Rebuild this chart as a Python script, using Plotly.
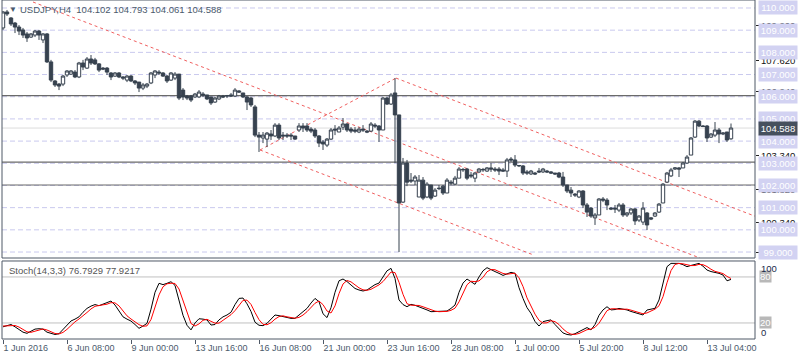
import plotly.graph_objects as go

# ---------------- data ----------------
tick_labels = ["1 Jun 2016", "6 Jun 08:00", "9 Jun 00:00", "13 Jun 16:00", "16 Jun 08:00",
               "21 Jun 00:00", "23 Jun 16:00", "28 Jun 08:00", "1 Jul 00:00", "5 Jul 20:00",
               "8 Jul 12:00", "13 Jul 04:00"]
tick_bars = [0, 16, 32, 48, 64, 80, 96, 112, 128, 144, 160, 176]

opens = [109.10, 109.82, 109.55, 109.32, 109.14, 109.01, 108.83, 108.69, 108.78, 108.96,
         108.56, 108.83, 107.57, 106.71, 106.57, 106.57, 106.98, 107.02, 107.11, 106.89,
         107.52, 107.29, 107.70, 107.66, 107.48, 107.29, 107.29, 107.07, 106.93, 107.07,
         106.89, 106.75, 106.93, 106.71, 106.66, 106.39, 106.48, 106.62, 106.98, 107.11,
         107.07, 106.93, 106.75, 106.84, 107.02, 106.30, 106.03, 106.03, 105.99, 105.99,
         106.12, 106.08, 105.99, 105.76, 105.90, 106.03, 106.03, 106.08, 106.03, 106.26,
         106.17, 105.99, 105.94, 105.54, 104.27, 104.14, 104.09, 104.32, 104.23, 104.72,
         104.27, 104.27, 104.27, 104.23, 104.50, 104.68, 104.68, 104.54, 104.50, 104.23,
         103.96, 103.82, 104.09, 104.54, 104.41, 104.63, 104.77, 104.54, 104.50, 104.41,
         104.54, 104.45, 104.45, 104.72, 104.68, 104.50, 105.94, 105.67, 106.17, 105.18,
         101.25, 103.01, 102.24, 102.20, 101.48, 102.24, 101.48, 102.02, 101.52, 101.88,
         101.97, 101.66, 102.15, 102.06, 102.33, 102.70, 102.74, 102.47, 102.33, 102.61,
         102.70, 102.65, 102.79, 102.74, 102.74, 102.70, 102.65, 103.19, 103.15, 102.88,
         102.88, 102.61, 102.52, 102.56, 102.65, 102.61, 102.65, 102.61, 102.56, 102.56,
         102.38, 102.02, 101.79, 101.61, 101.48, 101.75, 101.12, 100.98, 100.54, 100.67,
         101.39, 101.34, 100.98, 100.98, 100.89, 101.12, 100.67, 100.76, 100.94, 100.44,
         100.35, 100.76, 100.54, 100.62, 100.80, 101.21, 102.15, 102.43, 102.74, 102.79,
         102.79, 103.01, 103.37, 104.18, 104.90, 104.68, 104.68, 104.18, 104.27, 104.50,
         104.32, 104.41, 104.102]
highs = [109.86, 109.91, 109.59, 109.37, 109.23, 109.10, 108.92, 108.87, 109.01, 109.01,
         108.87, 108.87, 107.66, 106.75, 106.62, 106.98, 107.20, 107.20, 107.20, 107.57,
         107.66, 107.79, 107.88, 107.75, 107.52, 107.34, 107.34, 107.11, 107.11, 107.11,
         106.93, 106.98, 106.98, 106.75, 106.66, 106.62, 106.62, 107.11, 107.20, 107.20,
         107.11, 106.98, 107.11, 107.11, 107.02, 106.39, 106.08, 106.08, 106.17, 106.30,
         106.21, 106.08, 105.99, 105.99, 106.08, 106.08, 106.08, 106.17, 106.39, 106.30,
         106.17, 106.03, 105.99, 105.63, 104.41, 104.41, 104.41, 104.50, 104.81, 104.81,
         104.41, 104.36, 104.36, 104.23, 104.81, 104.81, 104.81, 104.63, 104.59, 104.27,
         104.05, 104.14, 104.59, 104.72, 104.68, 105.04, 104.81, 104.63, 104.63, 104.63,
         104.72, 104.50, 104.86, 104.81, 104.72, 105.99, 105.99, 106.17, 106.84, 105.18,
         103.24, 103.15, 102.56, 102.47, 102.47, 102.38, 102.15, 102.02, 101.88, 102.02,
         102.02, 102.33, 102.24, 102.43, 102.83, 102.79, 102.79, 102.61, 102.61, 102.79,
         102.79, 102.83, 103.01, 102.83, 102.83, 102.79, 103.24, 103.28, 103.37, 102.92,
         102.92, 102.70, 102.70, 102.61, 102.79, 102.79, 102.70, 102.65, 102.56, 102.61,
         102.61, 102.02, 101.93, 101.66, 101.79, 101.79, 101.21, 101.03, 100.76, 101.43,
         101.48, 101.43, 101.03, 101.12, 101.21, 101.21, 100.80, 100.98, 100.98, 100.67,
         101.25, 100.80, 100.58, 100.80, 101.21, 102.11, 102.61, 102.79, 102.83, 102.83,
         103.06, 103.37, 104.18, 104.95, 104.95, 104.72, 104.72, 104.36, 104.86, 104.59,
         104.41, 104.41, 104.793]
lows = [109.01, 109.64, 109.19, 108.87, 108.78, 108.65, 108.47, 108.65, 108.69, 108.56,
        108.42, 107.52, 106.66, 106.44, 106.30, 106.48, 106.89, 106.98, 106.84, 106.84,
        107.20, 107.25, 107.43, 107.43, 107.11, 107.20, 106.98, 106.75, 106.89, 106.84,
        106.75, 106.66, 106.66, 106.53, 106.21, 106.30, 106.39, 106.57, 106.84, 106.98,
        106.89, 106.62, 106.71, 106.75, 105.85, 105.85, 105.85, 105.76, 105.94, 105.94,
        105.99, 105.85, 105.63, 105.72, 105.85, 105.94, 105.94, 105.99, 105.99, 106.17,
        105.94, 105.40, 105.54, 104.18, 103.51, 103.91, 103.73, 104.05, 104.18, 104.05,
        104.05, 104.14, 104.05, 104.05, 104.41, 104.41, 104.41, 104.36, 104.14, 103.73,
        103.60, 103.73, 104.05, 104.27, 104.41, 104.50, 104.41, 104.36, 104.36, 104.36,
        104.41, 104.36, 104.41, 104.59, 103.96, 104.50, 105.63, 105.63, 103.01, 99.00,
        101.21, 101.97, 102.11, 102.02, 101.48, 101.34, 101.43, 101.34, 101.48, 101.79,
        101.57, 101.66, 102.02, 102.02, 102.33, 102.61, 102.24, 102.33, 102.15, 102.56,
        102.61, 102.61, 102.61, 102.61, 102.47, 102.61, 102.38, 103.06, 102.83, 102.83,
        102.47, 102.47, 102.47, 102.47, 102.56, 102.56, 102.56, 102.52, 102.47, 102.33,
        101.93, 101.66, 101.48, 101.48, 101.43, 100.98, 100.58, 100.54, 100.22, 100.67,
        101.25, 100.89, 100.89, 100.76, 100.80, 100.58, 100.58, 100.67, 100.22, 100.35,
        100.22, 99.99, 100.44, 100.58, 100.76, 101.21, 102.11, 102.38, 102.70, 102.38,
        102.79, 102.97, 103.37, 104.14, 104.63, 104.63, 103.96, 104.14, 104.18, 103.91,
        104.27, 103.96, 104.061]
closes = [109.82, 109.73, 109.28, 109.14, 108.96, 108.78, 108.65, 108.83, 108.96, 108.78,
          108.83, 107.57, 106.75, 106.53, 106.48, 106.93, 107.16, 107.16, 106.89, 107.52,
          107.34, 107.70, 107.52, 107.48, 107.20, 107.25, 107.11, 106.89, 107.07, 106.89,
          106.84, 106.93, 106.71, 106.62, 106.39, 106.53, 106.57, 107.07, 107.16, 107.07,
          106.93, 106.71, 107.07, 107.02, 105.94, 105.99, 105.94, 105.85, 106.12, 106.21,
          106.08, 105.90, 105.72, 105.94, 106.03, 105.99, 106.05, 106.03, 106.30, 106.21,
          105.99, 105.76, 105.63, 104.27, 104.18, 104.27, 104.36, 104.23, 104.72, 104.14,
          104.23, 104.23, 104.23, 104.09, 104.68, 104.59, 104.50, 104.45, 104.23, 103.91,
          103.87, 104.09, 104.50, 104.50, 104.59, 104.77, 104.50, 104.45, 104.45, 104.54,
          104.50, 104.41, 104.77, 104.68, 104.50, 105.94, 105.67, 106.08, 105.18, 101.21,
          103.01, 102.15, 102.20, 102.38, 102.24, 101.43, 102.06, 101.43, 101.79, 101.86,
          101.66, 102.24, 102.11, 102.33, 102.74, 102.72, 102.33, 102.43, 102.56, 102.74,
          102.72, 102.79, 102.74, 102.70, 102.65, 102.65, 103.15, 103.15, 102.92, 102.90,
          102.56, 102.56, 102.65, 102.52, 102.61, 102.74, 102.61, 102.56, 102.52, 102.38,
          102.02, 101.75, 101.66, 101.57, 101.75, 101.12, 100.80, 100.62, 100.67, 101.39,
          101.34, 101.12, 100.94, 100.94, 101.12, 100.67, 100.76, 100.94, 100.40, 100.62,
          100.98, 100.22, 100.49, 100.76, 101.16, 102.06, 102.56, 102.70, 102.79, 102.74,
          103.01, 103.28, 104.14, 104.90, 104.68, 104.66, 104.14, 104.32, 104.50, 104.32,
          104.36, 104.05, 104.588]

stoch_k = [15, 17, 18, 15, 11, 8, 6.5, 9, 12, 12.5, 12, 8, 6, 5, 6, 12, 17, 22.6, 25, 28,
           34, 39, 42, 44, 42.5, 44.5, 46.5, 48.6, 43.4, 35, 28, 25, 22.5, 18, 13, 16, 19.5, 38, 60, 71.7,
           70, 71.7, 73.8, 69, 50, 30, 17, 11, 20, 25.5, 25, 24, 17.3, 18, 24, 28, 30.4, 34, 44, 52,
           52.5, 45, 35, 21, 17, 16.5, 19.5, 25, 30.4, 29.5, 28, 26.5, 26, 26, 30, 35, 39, 46, 52, 47.8,
           32, 27, 40, 60, 75, 77.3, 74, 69.5, 65, 63, 61.7, 63, 67, 70, 72, 80, 88, 91.2, 78, 50,
           44, 41.2, 44.3, 43, 41.2, 39, 37, 34.7, 34.7, 34.7, 35, 35.6, 39, 43.4, 60, 72, 77.3, 74, 70.4, 80,
           88, 92.1, 89, 87, 84.7, 82, 84, 86, 84.7, 66, 52, 40, 32.5, 22, 16, 21.7, 23, 24, 18, 12,
           7, 5, 4.3, 6, 8.6, 11, 14, 11, 18, 30, 37, 41.2, 37, 37.5, 39, 38, 37, 35, 33.5, 32,
           30.4, 36.9, 38, 39.1, 50, 73.8, 93.4, 97.7, 97.7, 97.7, 96, 93.4, 95, 96.4, 97.7, 94, 89, 87, 86, 84.7,
           82.5, 75, 76.79]
stoch_d = [16, 16.5, 16.7, 16.7, 14.7, 11.3, 8.5, 7.8, 9.2, 11.2, 12.2, 10.8, 8.7, 6.3, 5.7, 7.7, 11.7, 17.2, 21.5, 25.2,
           29, 33.7, 38.3, 41.7, 42.8, 43.7, 44.5, 46.5, 46.2, 42.3, 35.5, 29.3, 25.2, 21.8, 17.8, 15.7, 16.2, 24.5, 39.2, 56.6,
           67.2, 71.1, 71.8, 71.5, 64.3, 49.7, 32.3, 19.3, 16, 18.8, 23.5, 24.8, 22.1, 19.8, 19.8, 23.3, 27.5, 30.8, 36.1, 43.3,
           49.5, 49.8, 44.2, 33.7, 24.3, 18.2, 17.7, 20.3, 25, 28.3, 29.3, 28, 26.8, 26.2, 27.3, 30.3, 34.7, 40, 45.7, 48.6,
           43.9, 35.6, 33, 42.3, 58.3, 70.8, 75.4, 73.6, 69.5, 65.8, 63.2, 62.6, 63.9, 66.7, 69.7, 74, 80, 86.4, 85.7, 73.1,
           57.3, 45.1, 43.2, 42.8, 42.8, 41.1, 39.1, 36.9, 35.5, 34.7, 34.8, 35.1, 36.5, 39.3, 47.5, 58.5, 69.8, 74.4, 73.9, 74.8,
           79.5, 86.7, 89.7, 89.4, 86.9, 84.6, 83.6, 84, 84.9, 78.9, 67.6, 52.7, 41.5, 31.5, 23.5, 19.9, 20.2, 22.9, 21.7, 18,
           12.3, 8, 5.4, 5.1, 6.3, 8.5, 11.2, 12, 14.3, 19.7, 28.3, 36.1, 38.4, 38.6, 37.8, 38.2, 38, 36.7, 35.2, 33.5,
           32, 33.1, 35.1, 38, 42.4, 54.3, 72.4, 88.3, 96.3, 97.7, 97.1, 95.7, 94.8, 94.9, 96.4, 96, 93.6, 90, 87.3, 85.9,
           84.4, 80.7, 77.92]

# price levels drawn on the chart
label_levels = [99, 100, 101, 102, 103, 104, 105, 106, 107, 108, 109, 110]
solid_levels = [106.05, 103.05, 102.02]
last_price = 104.588
axis_ticks = [98.96, 100.34, 101.82, 103.34, 106.24, 107.62, 109.20]
# channel lines: (bar0, price0, bar1, price1)
channels = [(7.5, 110.27, 174.25, 98.73),
            (64.25, 103.60, 98.25, 106.84),
            (64.25, 103.60, 132.75, 98.86),
            (98.25, 106.84, 188.5, 100.58)]
stoch_levels = [80, 20]

# ---------------- style ----------------
CANDLE = "#37424f"
FRAME = "#4e5866"
TEXT = "#4a5a6c"
LAV = "#d2d2f2"
FONT = "Liberation Sans, Arial, sans-serif"

bars = list(range(len(opens)))

fig = go.Figure()
fig.add_trace(go.Candlestick(
    x=bars, open=opens, high=highs, low=lows, close=closes,
    increasing=dict(line=dict(color=CANDLE, width=1), fillcolor="white"),
    decreasing=dict(line=dict(color=CANDLE, width=1), fillcolor=CANDLE),
    whiskerwidth=0, hoverinfo="skip", showlegend=False, xaxis="x", yaxis="y"))
fig.add_trace(go.Scatter(x=bars, y=stoch_k, mode="lines", line=dict(color="black", width=1),
                         hoverinfo="skip", showlegend=False, xaxis="x", yaxis="y2"))
fig.add_trace(go.Scatter(x=bars, y=stoch_d, mode="lines", line=dict(color="#ff0000", width=1),
                         hoverinfo="skip", showlegend=False, xaxis="x", yaxis="y2"))

shapes = []
for lv in label_levels:
    shapes.append(dict(type="line", xref="x domain", yref="y", x0=0, x1=1, y0=lv, y1=lv,
                       line=dict(color="#c9c9ee", width=1, dash="5px,3px"), layer="below"))
shapes.append(dict(type="line", xref="x domain", yref="y", x0=0, x1=1, y0=last_price, y1=last_price,
                   line=dict(color="#dcdcdc", width=1), layer="below"))
for lv in solid_levels:
    shapes.append(dict(type="line", xref="x domain", yref="y", x0=0, x1=1, y0=lv, y1=lv,
                       line=dict(color="#6a6a6a", width=1.2), layer="below"))
for (a0, p0, a1, p1) in channels:
    shapes.append(dict(type="line", xref="x", yref="y", x0=a0, y0=p0, x1=a1, y1=p1,
                       line=dict(color="#f06060", width=1, dash="3px,3px"), layer="below"))
for lv in stoch_levels:
    shapes.append(dict(type="line", xref="x domain", yref="y2", x0=0, x1=1, y0=lv, y1=lv,
                       line=dict(color="#c0c0c0", width=1), layer="below"))
for yr in ["y domain", "y2 domain"]:
    shapes.append(dict(type="rect", xref="x domain", yref=yr, x0=0, x1=1, y0=0, y1=1,
                       line=dict(color=FRAME, width=1), fillcolor="rgba(0,0,0,0)", layer="above"))

ann = []
ann.append(dict(xref="x domain", yref="y domain", x=0.006, y=0.962, text="▼", showarrow=False,
                xanchor="left", yanchor="middle", font=dict(family=FONT, size=8, color=TEXT)))
ann.append(dict(xref="x domain", yref="y domain", x=0.021, y=0.962,
                text="USDJPY,H4  104.102 104.793 104.061 104.588", showarrow=False,
                xanchor="left", yanchor="middle", font=dict(family=FONT, size=9.5, color=TEXT)))
ann.append(dict(xref="x domain", yref="y2 domain", x=0.006, y=0.88,
                text="Stoch(14,3,3) 76.7929 77.9217", showarrow=False,
                xanchor="left", yanchor="middle", font=dict(family=FONT, size=9.5, color="#555555")))
for lv in label_levels:
    ann.append(dict(xref="x domain", yref="y", x=1, xshift=3, y=lv, text=f"{lv:.3f}", showarrow=False,
                    xanchor="left", yanchor="middle", bgcolor=LAV, borderpad=1, width=36,
                    font=dict(family=FONT, size=9.5, color="white")))
ann.append(dict(xref="x domain", yref="y", x=1, xshift=3, y=last_price, text=f"{last_price:.3f}",
                showarrow=False, xanchor="left", yanchor="middle", bgcolor="#46505e", borderpad=1,
                width=36, font=dict(family=FONT, size=9.5, color="white")))
for lv in stoch_levels:
    ann.append(dict(xref="x domain", yref="y2", x=1, xshift=4, y=lv, text=str(lv), showarrow=False,
                    xanchor="left", yanchor="middle", bgcolor="#b8b8b8", borderpad=0,
                    font=dict(family=FONT, size=9.5, color="white")))
ann.append(dict(xref="x domain", yref="y2 domain", x=1, xshift=4, y=0.91, text="100", showarrow=False,
                xanchor="left", yanchor="middle", font=dict(family=FONT, size=9.5, color="#1a2a4a")))
ann.append(dict(xref="x domain", yref="y2 domain", x=1, xshift=4, y=0.08, text="0", showarrow=False,
                xanchor="left", yanchor="middle", font=dict(family=FONT, size=9.5, color="#1a2a4a")))

fig.update_layout(
    width=800, height=360,
    margin=dict(l=2, r=45, t=0, b=21),
    paper_bgcolor="white", plot_bgcolor="white",
    showlegend=False, shapes=shapes, annotations=ann,
    boxgap=0.15, boxgroupgap=0.0,
    xaxis=dict(range=[-0.25, 188.0], anchor="y2", tickvals=tick_bars, ticktext=tick_labels,
               ticks="outside", ticklen=4, tickcolor=FRAME, ticklabelposition="outside right",
               tickfont=dict(family=FONT, size=9, color=TEXT), showgrid=False, zeroline=False,
               showline=False, rangeslider=dict(visible=False), fixedrange=True),
    yaxis=dict(domain=[0.2389, 1.0], range=[98.73, 110.36], side="right", anchor="x",
               tickvals=axis_ticks, ticktext=[f"{v:.3f}" for v in axis_ticks],
               ticks="outside", ticklen=3, tickcolor="#222222",
               tickfont=dict(family=FONT, size=9.5, color="#111111"),
               showgrid=False, zeroline=False, showline=False),
    yaxis2=dict(domain=[0.0, 0.2301], range=[-0.9, 100.8], side="right", anchor="x",
                showticklabels=False, ticks="", showgrid=False, zeroline=False, showline=False),
)

fig.write_html("out.html", config={"displayModeBar": False},
               post_script="document.body.style.margin='0';document.body.style.padding='0';")
